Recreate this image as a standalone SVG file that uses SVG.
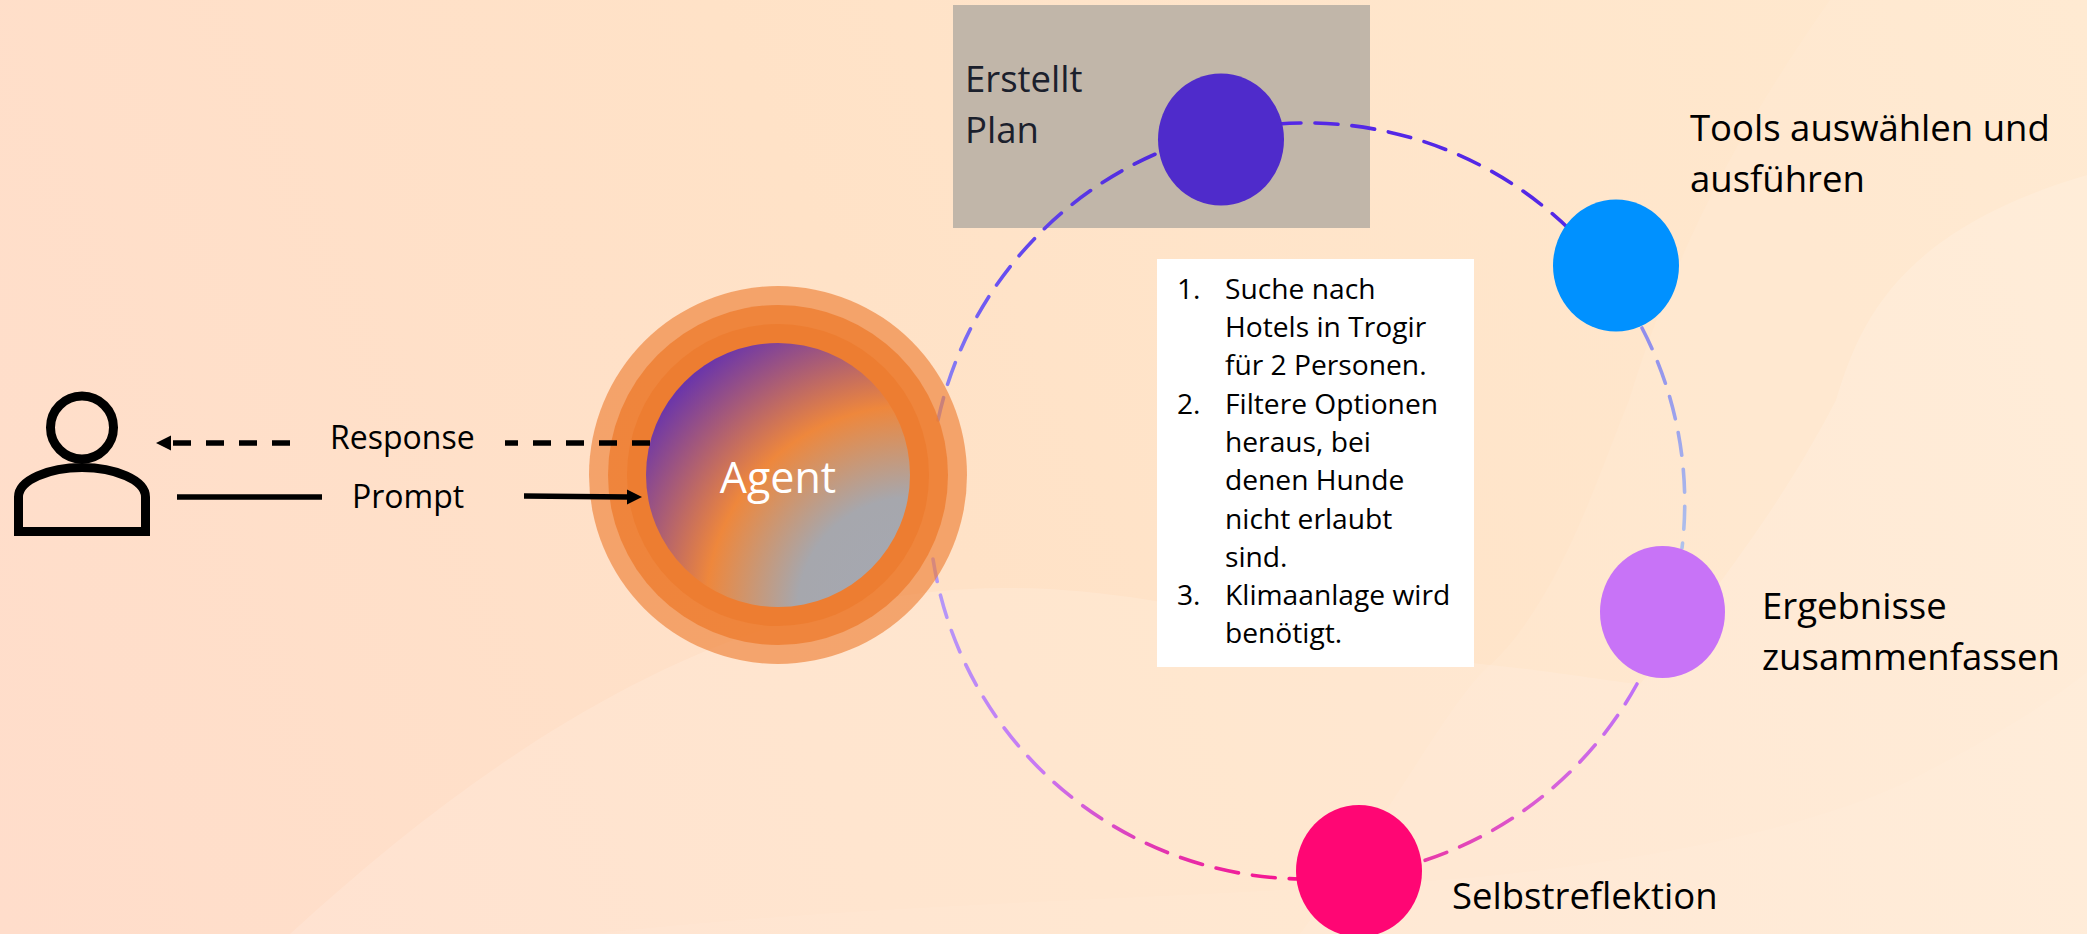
<svg xmlns="http://www.w3.org/2000/svg" width="2087" height="934" viewBox="0 0 2087 934">
<style>
text{font-family:"Open Sans","Noto Sans",sans-serif;fill:#000}
.l{font-size:36.500px}
.m{font-size:32px}
.s{font-size:28.200px}
.arc{fill:none;stroke-width:3.600;stroke-linecap:round;stroke-dasharray:23 14}
.blk{fill:none;stroke:#000;stroke-width:5.500}
</style>
<defs>
<linearGradient id="bg" gradientUnits="userSpaceOnUse" x1="0" y1="934" x2="2087" y2="0">
<stop offset="0" stop-color="#FFDDCB"/><stop offset=".45" stop-color="#FFE2C7"/><stop offset="1" stop-color="#FFE9CF"/>
</linearGradient>
<radialGradient id="core" gradientUnits="userSpaceOnUse" cx="910" cy="610" r="340">
<stop offset="0" stop-color="#A5A8B2"/><stop offset=".33" stop-color="#A6A7AD"/><stop offset=".6" stop-color="#EE873C"/><stop offset=".97" stop-color="#5F2EB4"/>
</radialGradient>
<linearGradient id="g1" gradientUnits="userSpaceOnUse" x1="0" y1="420" x2="0" y2="150"><stop offset="0" stop-color="#9490F2"/><stop offset=".5" stop-color="#6A52F2"/><stop offset="1" stop-color="#4F28DE"/></linearGradient>
<linearGradient id="g2" gradientUnits="userSpaceOnUse" x1="0" y1="328" x2="0" y2="548"><stop offset="0" stop-color="#8F8CEC"/><stop offset="1" stop-color="#AFC2EC"/></linearGradient>
<linearGradient id="g3" gradientUnits="userSpaceOnUse" x1="1637" y1="684" x2="1420" y2="862"><stop offset="0" stop-color="#BE72F8"/><stop offset=".5" stop-color="#D860D8"/><stop offset="1" stop-color="#E838A8"/></linearGradient>
<linearGradient id="g4" gradientUnits="userSpaceOnUse" x1="933" y1="559" x2="1300" y2="879"><stop offset="0" stop-color="#B09CF8"/><stop offset=".45" stop-color="#C878F4"/><stop offset=".72" stop-color="#E038B4"/><stop offset="1" stop-color="#F8108C"/></linearGradient>
<path id="tip" d="M0 0L-15 -7.500V7.500Z"/>
</defs>
<g id="background">
<rect width="2087" height="934" fill="url(#bg)"/>
<path d="M290 934C480 760 720 590 1000 588C1180 586 1330 650 1490 665C1560 672 1600 680 1640 684C1670 650 1700 610 1729 570C1780 500 1810 450 1836 400C1860 320 1900 230 2087 175V934Z" fill="#FFF" opacity=".14"/>
<path d="M1490 665C1560 600 1600 470 1629 400C1660 300 1710 170 1830 0H2087V934H1300C1400 800 1450 700 1490 665Z" fill="#FFF" opacity=".08"/>
<path d="M590 934C900 900 1200 900 1478 877C1650 860 1800 830 1900 785C1970 750 2040 710 2087 672V934Z" fill="#FFF" opacity=".06"/>
</g>
<rect id="plan-box" x="953" y="5" width="417" height="223" fill="#C1B6A9"/>
<g id="ring-connectors">
<path class="arc" stroke="url(#g1)" d="M938 420A378 378 0 0 1 1165 150"/>
<path class="arc" stroke="#5428E6" d="M1278 124A378 378 0 0 1 1580 240"/>
<path class="arc" stroke="url(#g2)" d="M1642 328A378 378 0 0 1 1682 548"/>
<path class="arc" stroke="url(#g3)" d="M1637 684A378 378 0 0 1 1420 862"/>
<path class="arc" stroke="url(#g4)" d="M933 559A378 378 0 0 0 1300 879"/>
</g>
<g id="user">
<circle cx="82" cy="427.500" r="31.500" fill="none" stroke="#000" stroke-width="9"/>
<path d="M18.500 531.500H145.500V497C145.500 480 115 467.500 82 467.500C49 467.500 18.500 480 18.500 497Z" fill="none" stroke="#000" stroke-width="9"/>
</g>
<g id="agent">
<circle cx="778" cy="475" r="189" fill="#ED7D31" opacity=".62"/>
<circle cx="778" cy="475" r="170" fill="#ED7D31" opacity=".8"/>
<circle cx="778" cy="475" r="151" fill="#ED7D31"/>
<circle cx="778" cy="475" r="132" fill="url(#core)"/>
<text x="778" y="493" text-anchor="middle" style="fill:#fff;font-size:43px">Agent</text>
</g>
<g id="arrows">
<path class="blk" stroke-dasharray="18 15" d="M650 443H505"/>
<path class="blk" stroke-dasharray="18 15" d="M290 443H170"/>
<use href="#tip" transform="translate(156 443) rotate(180)"/>
<path class="blk" d="M177 497H322"/>
<path class="blk" d="M524 496L628 497"/>
<use href="#tip" transform="translate(642 497)"/>
</g>
<text class="m" x="330" y="449">Response</text>
<text class="m" x="352" y="508">Prompt</text>
<g id="plan"><ellipse cx="1221" cy="139.500" rx="63" ry="66" fill="#4F2BCB"/>
<text class="l" x="965" y="92" style="fill:#1B202C">Erstellt</text><text class="l" x="965" y="143" style="fill:#1B202C">Plan</text></g>
<g id="tools"><ellipse cx="1616" cy="265.500" rx="63" ry="66" fill="#0091FF"/>
<text class="l" x="1690" y="141">Tools auswählen und</text><text class="l" x="1690" y="192">ausführen</text></g>
<g id="results"><ellipse cx="1662.500" cy="612" rx="62.500" ry="66" fill="#C873F7"/>
<text class="l" x="1762" y="619">Ergebnisse</text><text class="l" x="1762" y="670">zusammenfassen</text></g>
<g id="reflect"><ellipse cx="1359" cy="871" rx="63" ry="66" fill="#FF0674"/>
<text class="l" x="1452" y="909">Selbstreflektion</text></g>
<g id="list"><rect x="1157" y="259" width="317" height="408" fill="#fff"/>
<text class="s" x="1177" y="299">1.</text><text class="s" x="1225" y="299">Suche nach</text>
<text class="s" x="1225" y="337">Hotels in Trogir</text>
<text class="s" x="1225" y="375">für 2 Personen.</text>
<text class="s" x="1177" y="414">2.</text><text class="s" x="1225" y="414">Filtere Optionen</text>
<text class="s" x="1225" y="452">heraus, bei</text>
<text class="s" x="1225" y="490">denen Hunde</text>
<text class="s" x="1225" y="529">nicht erlaubt</text>
<text class="s" x="1225" y="567">sind.</text>
<text class="s" x="1177" y="605">3.</text><text class="s" x="1225" y="605">Klimaanlage wird</text>
<text class="s" x="1225" y="643">benötigt.</text></g>
</svg>
